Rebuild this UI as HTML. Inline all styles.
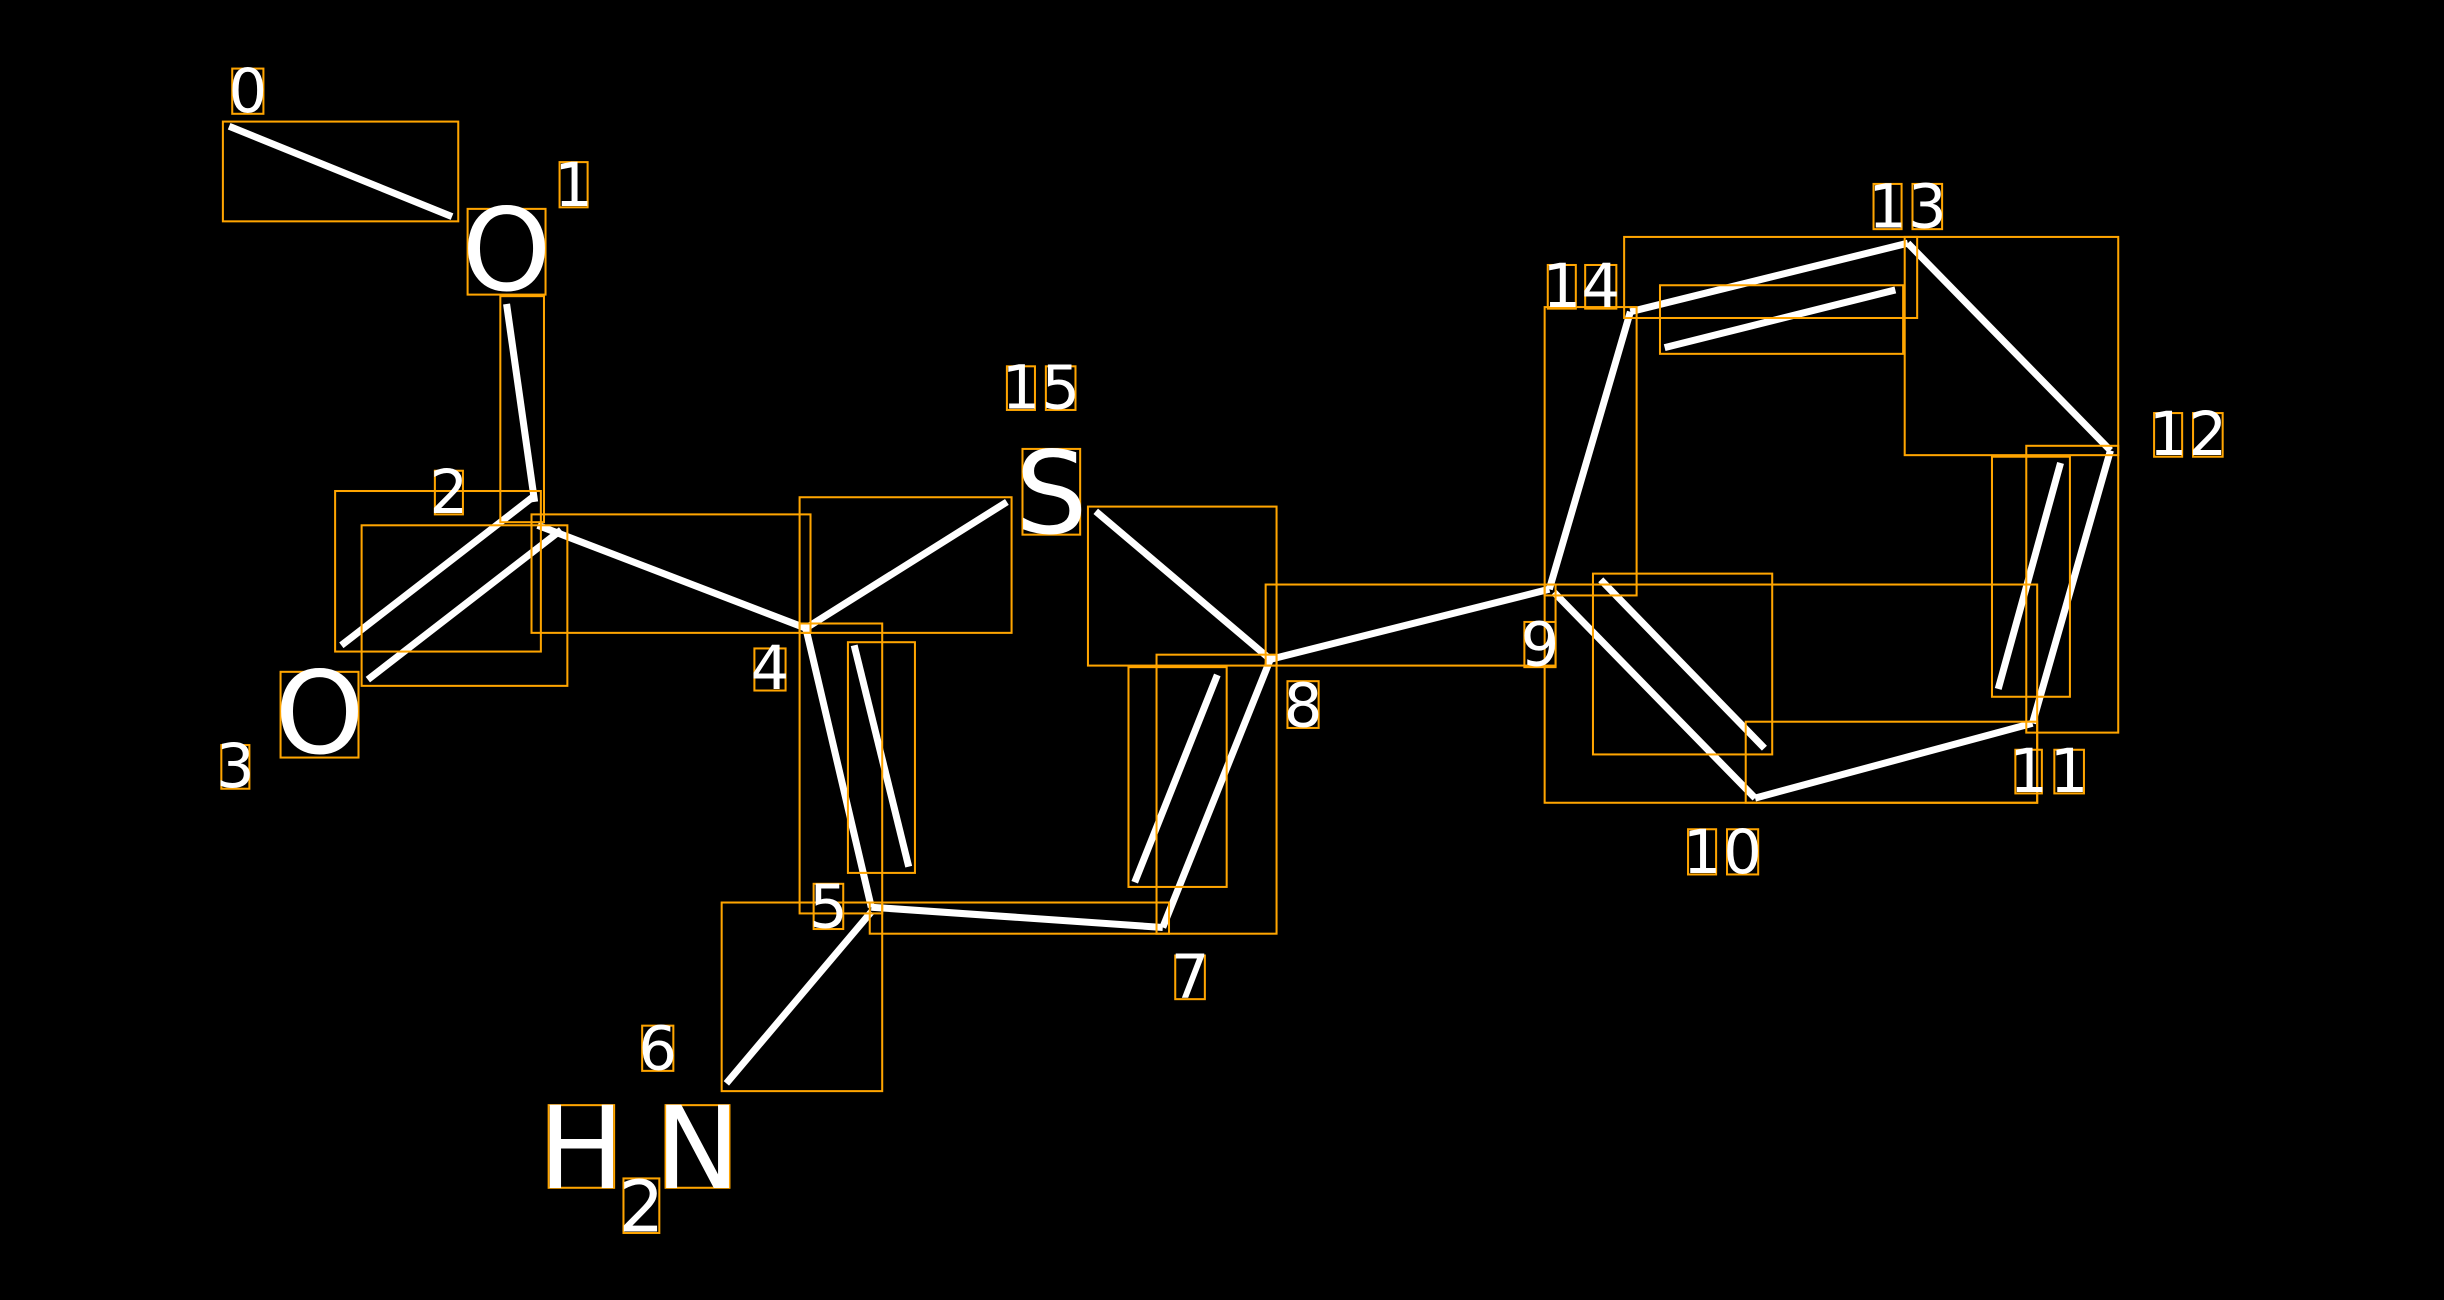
<!DOCTYPE html>
<html><head><meta charset="utf-8"><style>
html,body{margin:0;padding:0;background:#000;overflow:hidden}
svg{display:block}
text{font-family:"DejaVu Sans","Liberation Sans",sans-serif;fill:#fff}
</style></head><body>
<svg width="2444" height="1300" viewBox="0 0 1568 834" preserveAspectRatio="none" xmlns="http://www.w3.org/2000/svg">
<rect width="1568" height="834" fill="#000"/>
<g stroke="#fff" stroke-width="4.5" stroke-linecap="butt" fill="none">
<line x1="147" y1="81" x2="290" y2="139"/>
<line x1="325" y1="195" x2="343" y2="322"/>
<line x1="219" y1="414" x2="343" y2="318"/>
<line x1="236" y1="436" x2="360" y2="340"/>
<line x1="345" y1="337" x2="517" y2="403"/>
<line x1="517" y1="403" x2="646" y2="322"/>
<line x1="517" y1="403" x2="559" y2="582"/>
<line x1="548" y1="414" x2="583" y2="556"/>
<line x1="559" y1="582" x2="746" y2="595"/>
<line x1="559" y1="585" x2="466" y2="695"/>
<line x1="703" y1="328" x2="815" y2="423"/>
<line x1="746" y1="595" x2="815" y2="423"/>
<line x1="728" y1="566" x2="781" y2="433"/>
<line x1="815" y1="423" x2="994" y2="378"/>
<line x1="994" y1="378" x2="1046" y2="200"/>
<line x1="1046" y1="200" x2="1224" y2="156"/>
<line x1="1068" y1="223" x2="1216" y2="186"/>
<line x1="1224" y1="156" x2="1354" y2="289"/>
<line x1="1354" y1="289" x2="1304" y2="464"/>
<line x1="1322" y1="297" x2="1282" y2="442"/>
<line x1="1304" y1="464" x2="1126" y2="512"/>
<line x1="1126" y1="512" x2="997" y2="380"/>
<line x1="1027" y1="372" x2="1132" y2="480"/>
</g>
<g stroke="#FFA500" stroke-width="1.3" fill="none">
<rect x="143" y="78" width="151" height="64"/>
<rect x="321" y="190" width="28" height="145"/>
<rect x="215" y="315" width="132" height="103"/>
<rect x="232" y="337" width="132" height="103"/>
<rect x="341" y="330" width="179" height="76"/>
<rect x="513" y="319" width="136" height="87"/>
<rect x="513" y="400" width="53" height="186"/>
<rect x="544" y="412" width="43" height="148"/>
<rect x="463" y="579" width="103" height="121"/>
<rect x="558" y="579" width="192" height="20"/>
<rect x="698" y="325" width="121" height="102"/>
<rect x="724" y="428" width="63" height="141"/>
<rect x="742" y="420" width="77" height="179"/>
<rect x="812" y="375" width="186" height="52"/>
<rect x="991" y="197" width="59" height="185"/>
<rect x="991" y="375" width="316" height="140"/>
<rect x="1022" y="368" width="115" height="116"/>
<rect x="1042" y="152" width="188" height="52"/>
<rect x="1065" y="183" width="156" height="44"/>
<rect x="1222" y="152" width="137" height="140"/>
<rect x="1300" y="286" width="59" height="184"/>
<rect x="1278" y="293" width="50" height="154"/>
<rect x="1120" y="463" width="187" height="52"/>
<!-- label boxes -->
<rect x="300" y="134" width="50" height="55"/>
<rect x="180" y="431" width="50" height="55"/>
<rect x="656" y="288" width="37" height="55"/>
<rect x="352" y="709" width="42" height="53"/>
<rect x="427" y="709" width="41" height="53"/>
<rect x="400" y="756" width="23" height="35"/>
<rect x="149" y="44" width="20" height="29"/>
<rect x="359" y="104" width="18" height="29"/>
<rect x="279" y="302" width="18" height="28"/>
<rect x="142" y="478" width="18" height="28"/>
<rect x="484" y="416" width="20" height="27"/>
<rect x="522" y="567" width="19" height="29"/>
<rect x="412" y="658" width="20" height="29"/>
<rect x="754" y="613" width="19" height="28"/>
<rect x="826" y="437" width="20" height="30"/>
<rect x="978" y="399" width="20" height="29"/>
<rect x="1083" y="532" width="18" height="29"/>
<rect x="1108" y="532" width="20" height="29"/>
<rect x="1293" y="481" width="17" height="28"/>
<rect x="1318" y="481" width="19" height="28"/>
<rect x="1382" y="265" width="18" height="28"/>
<rect x="1407" y="265" width="19" height="28"/>
<rect x="1202" y="118" width="18" height="29"/>
<rect x="1227" y="118" width="19" height="29"/>
<rect x="993" y="170" width="18" height="28"/>
<rect x="1017" y="170" width="20" height="28"/>
<rect x="646" y="235" width="18" height="28"/>
<rect x="671" y="235" width="19" height="28"/>
</g>
<g text-anchor="middle" font-size="73">
<text x="325" y="186">O</text>
<text x="205" y="483">O</text>
<text x="674.5" y="342">S</text>
<text x="373" y="762">H</text>
<text x="447.5" y="762">N</text>
<text x="411.5" y="790" font-size="46">2</text>
</g>
<g text-anchor="middle" font-size="39">
<text x="159" y="72">0</text>
<text x="368" y="132">1</text>
<text x="288" y="329">2</text>
<text x="151" y="505">3</text>
<text x="494" y="442">4</text>
<text x="531.5" y="595">5</text>
<text x="422" y="686">6</text>
<text x="763.5" y="640">7</text>
<text x="836" y="466">8</text>
<text x="988" y="427">9</text>
<text x="1092" y="560">1</text><text x="1118" y="560">0</text>
<text x="1301.5" y="508">1</text><text x="1327.5" y="508">1</text>
<text x="1391" y="292">1</text><text x="1416.5" y="292">2</text>
<text x="1211" y="146">1</text><text x="1236.5" y="146">3</text>
<text x="1002" y="197">1</text><text x="1027" y="197">4</text>
<text x="655" y="262">1</text><text x="680.5" y="262">5</text>
</g>
</svg>
</body></html>
